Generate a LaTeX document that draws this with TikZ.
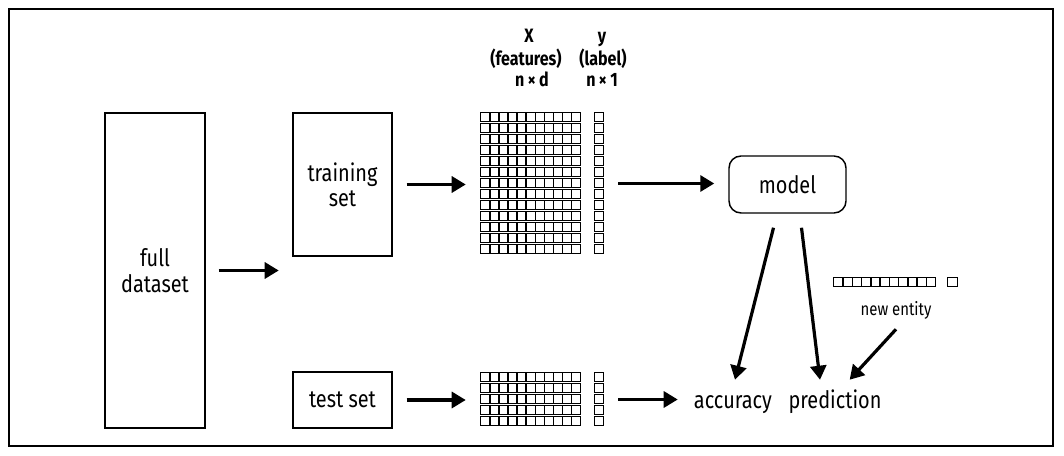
\documentclass[tikz,border=0pt]{standalone}
\usepackage{fontspec}
\setmainfont{Fira Sans}[FakeStretch=0.83]
\usetikzlibrary{arrows.meta,positioning}
\tikzset{every node/.style={inner sep=0pt, font=\fontsize{18}{19}\selectfont},
  box/.style={draw, line width=1.1pt, align=center},
  head/.style={anchor=base, font=\fontsize{14.5}{15}\selectfont\bfseries},
  link/.style={-{Triangle[length=10.5pt,width=12pt]}, line width=2.4pt},
  cell/.style={draw, line width=1.05pt}}
\newcommand\cellgrid[4]{% node, rows, columns, cell width
  \begin{scope}[shift={(#1.north west)}]
    \foreach \r in {1,...,#2}
      \foreach \c in {1,...,#3}
        \draw[cell] ({(\c-1)*#4},{(\r-1)*11}) rectangle ++(#4,9);
  \end{scope}}

\begin{document}
\begin{tikzpicture}[x=0.75pt,y=-0.75pt]
   \useasboundingbox (0,0) rectangle (1064,456);
   \draw[line width=1.2pt] (9,9) rectangle (1053,446);
   \node[box, minimum width=75pt, minimum height=236.25pt] (full) at (155,270.5) {full\\dataset};
   \node[box, minimum width=74.25pt, minimum height=107.25pt] (train) at (342.5,184.5) {training\\set};
   \node[box, minimum width=74.25pt, minimum height=42pt] (test) at (342.5,400) {test set};
   \node[box, rounded corners=9pt, minimum width=87.75pt, minimum height=42.75pt] (model) at (787.5,184.5) {model};

   \node[minimum width=75pt, minimum height=105.75pt] (Xtr) at (531,183.5) {};
   \node[minimum width=6.75pt, minimum height=105.75pt] (ytr) at (599.5,183.5) {};
   \node[minimum width=75pt, minimum height=39.75pt] (Xte) at (531,399.5) {};
   \node[minimum width=6.75pt, minimum height=39.75pt] (yte) at (599.5,399.5) {};
   \node[minimum width=76.5pt, minimum height=6.75pt] (ent) at (885,282) {};
   \node[minimum width=7.5pt, minimum height=6.75pt] (ent1) at (953,282) {};
   \cellgrid{Xtr}{13}{11}{9.0909}
   \cellgrid{ytr}{13}{1}{9}
   \cellgrid{Xte}{5}{11}{9.0909}
   \cellgrid{yte}{5}{1}{9}
   \cellgrid{ent}{1}{11}{9.2727}
   \cellgrid{ent1}{1}{1}{10}

   \node[head] (xname) at (529,43) {X};
   \node[head] (feat) at (526,66) {(features)};
   \node[head] (nd) at (532,87) {n\,×\,d};
   \node[head] (yname) at (602,43) {y};
   \node[head] (lab) at (603,66) {(label)};
   \node[head] (n1) at (602,87) {n\,×\,1};

   \node[anchor=base, text height=13pt, text depth=4pt] (acc) at (733,408) {accuracy};
   \node[anchor=base, text height=13pt, text depth=4pt] (pred) at (835,408) {prediction};
   \node[anchor=base, text depth=3.5pt, font=\fontsize{13.5}{14}\selectfont] (newent) at (896,315) {new entity};

   \draw[link] ([xshift=9.75pt]full.east) -- ++(60,0);
   \draw[link, shorten <=10.5pt, shorten >=11.25pt] (train.east) -- (train.east -| Xtr.west);
   \draw[link, shorten <=10.5pt, shorten >=10.5pt] (ytr.east) -- (ytr.east -| model.west);
   \draw[link, shorten <=10.5pt, shorten >=11.25pt] (test.east) -- (test.east -| Xte.west);
   \draw[link, shorten <=10.5pt, shorten >=12pt] (yte.east) -- (yte.east -| acc.west);
   \draw[link] ([xshift=-10.5pt,yshift=-10.5pt]model.south) -- ([xshift=1.5pt,yshift=8pt]acc.north);
   \draw[link] ([xshift=10.5pt,yshift=-10.5pt]model.south) -- ([xshift=-11.25pt,yshift=8pt]pred.north);
   \draw[link] ([yshift=-7pt]newent.south) -- ([xshift=11pt,yshift=8pt]pred.north);
\end{tikzpicture}
\end{document}
